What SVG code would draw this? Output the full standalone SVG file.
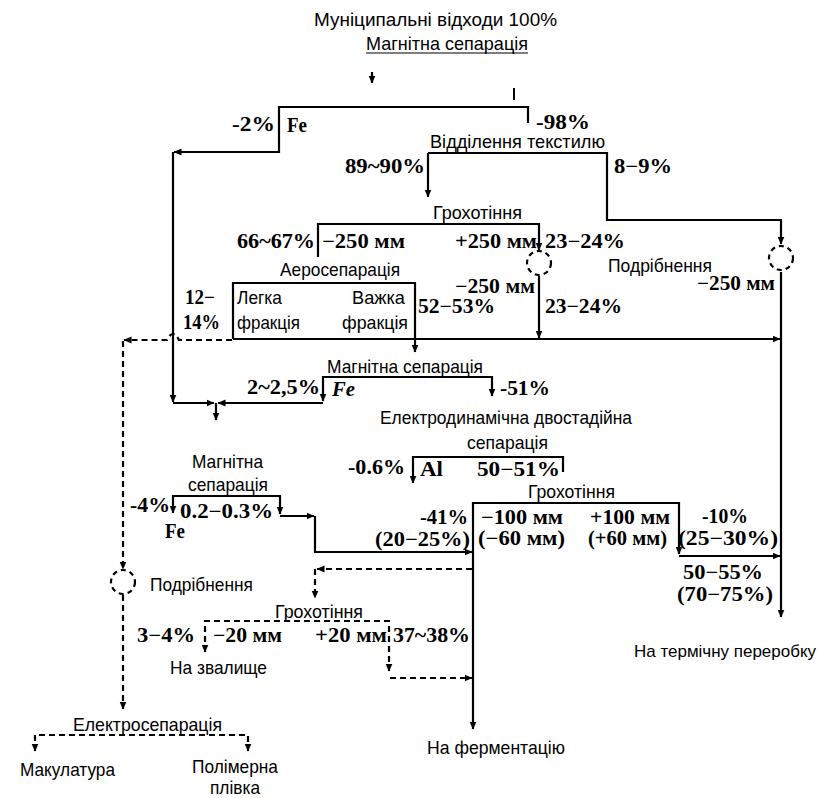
<svg xmlns="http://www.w3.org/2000/svg" width="822" height="798" viewBox="0 0 822 798">
<style>
.s{fill:none;stroke:#000;stroke-width:2.2}
.d{fill:none;stroke:#000;stroke-width:2.2;stroke-dasharray:6 4}
.c{fill:none;stroke:#000;stroke-width:2.2;stroke-dasharray:5 4}
.t{font-family:"Liberation Sans",Arial,sans-serif;font-size:19px;fill:#000}
.n{font-family:"Liberation Serif","Times New Roman",serif;font-size:20px;font-weight:bold;fill:#000}
.i{font-style:italic}
</style>
<defs>
<marker id="ah" viewBox="0 0 8 8" refX="7.5" refY="4" markerWidth="8" markerHeight="8" markerUnits="userSpaceOnUse" orient="auto-start-reverse"><path d="M0,0.5 L8,4 L0,7.5 z" fill="#000"/></marker>
</defs>
<rect width="822" height="798" fill="#fff"/>

<g id="title">
<text class="t" x="314" y="26" textLength="243" lengthAdjust="spacingAndGlyphs">Муніципальні відходи 100%</text>
</g>

<g id="magnetic1">
<text class="t" x="366" y="50" textLength="162" lengthAdjust="spacingAndGlyphs">Магнітна сепарація</text>
<line x1="366" y1="53" x2="528" y2="53" stroke="#000" stroke-width="1.2"/>
<line x1="514" y1="88" x2="514" y2="100" stroke="#000" stroke-width="2"/>
<text class="n" x="232" y="131" textLength="43" lengthAdjust="spacingAndGlyphs">-2%</text>
<text class="n" x="287" y="132" textLength="20" lengthAdjust="spacingAndGlyphs">Fe</text>
<text class="n" x="536" y="129" textLength="54" lengthAdjust="spacingAndGlyphs">-98%</text>
</g>

<g id="textile">
<text class="t" x="430" y="148" textLength="175" lengthAdjust="spacingAndGlyphs">Відділення текстилю</text>
<text class="n" x="345" y="173" textLength="80" lengthAdjust="spacingAndGlyphs">89~90%</text>
<text class="n" x="614" y="173" textLength="58" lengthAdjust="spacingAndGlyphs">8−9%</text>
</g>

<g id="screening1">
<text class="t" x="433" y="219" textLength="89" lengthAdjust="spacingAndGlyphs">Грохотіння</text>
<text class="n" x="237" y="248" textLength="78" lengthAdjust="spacingAndGlyphs">66~67%</text>
<text class="n" x="322" y="248" textLength="83" lengthAdjust="spacingAndGlyphs">−250 мм</text>
<text class="n" x="455" y="248" textLength="82" lengthAdjust="spacingAndGlyphs">+250 мм</text>
<text class="n" x="545" y="248" textLength="80" lengthAdjust="spacingAndGlyphs">23−24%</text>
</g>

<g id="crushing1">
<circle class="c" cx="539" cy="263" r="12"/>
<text class="n" x="455" y="293" textLength="80" lengthAdjust="spacingAndGlyphs">−250 мм</text>
<text class="n" x="545" y="313" textLength="77" lengthAdjust="spacingAndGlyphs">23−24%</text>
</g>

<g id="crushing2">
<circle class="c" cx="781" cy="258" r="12"/>
<text class="t" x="608" y="272" textLength="104" lengthAdjust="spacingAndGlyphs">Подрібнення</text>
<text class="n" x="697" y="290" textLength="78" lengthAdjust="spacingAndGlyphs">−250 мм</text>
</g>

<g id="aeroseparation">
<text class="t" x="280" y="276" textLength="120" lengthAdjust="spacingAndGlyphs">Аеросепарація</text>
<text class="t" x="237" y="304" textLength="45" lengthAdjust="spacingAndGlyphs">Легка</text>
<text class="t" x="237" y="329" textLength="63" lengthAdjust="spacingAndGlyphs">фракція</text>
<text class="t" x="352" y="304" textLength="53" lengthAdjust="spacingAndGlyphs">Важка</text>
<text class="t" x="342" y="329" textLength="66" lengthAdjust="spacingAndGlyphs">фракція</text>
<text class="n" x="185" y="304" textLength="30" lengthAdjust="spacingAndGlyphs">12−</text>
<text class="n" x="183" y="329" textLength="37" lengthAdjust="spacingAndGlyphs">14%</text>
<text class="n" x="418" y="313" textLength="77" lengthAdjust="spacingAndGlyphs">52−53%</text>
</g>

<g id="magnetic2">
<text class="t" x="327" y="373" textLength="156" lengthAdjust="spacingAndGlyphs">Магнітна сепарація</text>
<text class="n" x="247" y="394" textLength="73" lengthAdjust="spacingAndGlyphs">2~2,5%</text>
<text class="n i" x="332" y="396" textLength="23" lengthAdjust="spacingAndGlyphs">Fe</text>
<text class="n" x="500" y="395" textLength="50" lengthAdjust="spacingAndGlyphs">-51%</text>
</g>

<g id="electrodynamic">
<text class="t" x="380" y="424" textLength="252" lengthAdjust="spacingAndGlyphs">Електродинамічна двостадійна</text>
<text class="t" x="467" y="449" textLength="81" lengthAdjust="spacingAndGlyphs">сепарація</text>
<text class="n" x="348" y="474" textLength="57" lengthAdjust="spacingAndGlyphs">-0.6%</text>
<text class="n" x="420" y="476" textLength="23" lengthAdjust="spacingAndGlyphs">Al</text>
<text class="n" x="477" y="476" textLength="83" lengthAdjust="spacingAndGlyphs">50−51%</text>
</g>

<g id="magnetic3">
<text class="t" x="192" y="468" textLength="71" lengthAdjust="spacingAndGlyphs">Магнітна</text>
<text class="t" x="188" y="491" textLength="80" lengthAdjust="spacingAndGlyphs">сепарація</text>
<text class="n" x="130" y="512" textLength="40" lengthAdjust="spacingAndGlyphs">-4%</text>
<text class="n" x="180" y="518" textLength="93" lengthAdjust="spacingAndGlyphs">0.2−0.3%</text>
<text class="n" x="165" y="538" textLength="20" lengthAdjust="spacingAndGlyphs">Fe</text>
</g>

<g id="screening3">
<text class="t" x="528" y="498" textLength="87" lengthAdjust="spacingAndGlyphs">Грохотіння</text>
<text class="n" x="420" y="524" textLength="48" lengthAdjust="spacingAndGlyphs">-41%</text>
<text class="n" x="375" y="546" textLength="95" lengthAdjust="spacingAndGlyphs">(20−25%)</text>
<text class="n" x="481" y="524" textLength="82" lengthAdjust="spacingAndGlyphs">−100 мм</text>
<text class="n" x="590" y="524" textLength="80" lengthAdjust="spacingAndGlyphs">+100 мм</text>
<text class="n" x="478" y="545" textLength="87" lengthAdjust="spacingAndGlyphs">(−60 мм)</text>
<text class="n" x="588" y="545" textLength="79" lengthAdjust="spacingAndGlyphs">(+60 мм)</text>
<text class="n" x="702" y="523" textLength="46" lengthAdjust="spacingAndGlyphs">-10%</text>
<text class="n" x="678" y="545" textLength="100" lengthAdjust="spacingAndGlyphs">(25−30%)</text>
<text class="n" x="683" y="579" textLength="80" lengthAdjust="spacingAndGlyphs">50−55%</text>
<text class="n" x="677" y="601" textLength="96" lengthAdjust="spacingAndGlyphs">(70−75%)</text>
</g>

<g id="crushing3">
<circle class="c" cx="123" cy="582" r="12"/>
<text class="t" x="150" y="591" textLength="103" lengthAdjust="spacingAndGlyphs">Подрібнення</text>
</g>

<g id="screening4">
<text class="t" x="275" y="618" textLength="88" lengthAdjust="spacingAndGlyphs">Грохотіння</text>
<text class="n" x="137" y="642" textLength="58" lengthAdjust="spacingAndGlyphs">3−4%</text>
<text class="n" x="213" y="642" textLength="69" lengthAdjust="spacingAndGlyphs">−20 мм</text>
<text class="n" x="315" y="642" textLength="72" lengthAdjust="spacingAndGlyphs">+20 мм</text>
<text class="n" x="393" y="642" textLength="77" lengthAdjust="spacingAndGlyphs">37~38%</text>
</g>

<g id="landfill">
<text class="t" x="170" y="674" textLength="97" lengthAdjust="spacingAndGlyphs">На звалище</text>
</g>

<g id="thermal">
<text class="t" x="634" y="657" style="font-size:17px" textLength="182" lengthAdjust="spacingAndGlyphs">На термічну переробку</text>
</g>

<g id="electroseparation">
<text class="t" x="73" y="731" textLength="149" lengthAdjust="spacingAndGlyphs">Електросепарація</text>
</g>

<g id="fermentation">
<text class="t" x="427" y="754" textLength="138" lengthAdjust="spacingAndGlyphs">На ферментацію</text>
</g>

<g id="paper">
<text class="t" x="20" y="776" textLength="95" lengthAdjust="spacingAndGlyphs">Макулатура</text>
</g>

<g id="film">
<text class="t" x="192" y="773" textLength="86" lengthAdjust="spacingAndGlyphs">Полімерна</text>
<text class="t" x="210" y="794" textLength="50" lengthAdjust="spacingAndGlyphs">плівка</text>
</g>

<g id="connectors">
<path class="s" d="M372,72 V83" marker-end="url(#ah)"/>
<path class="s" d="M528,123 V107 H279 V152 H174" marker-end="url(#ah)"/>
<path class="s" d="M173,152 V402" marker-end="url(#ah)"/>
<path class="s" d="M428,153 V197" marker-end="url(#ah)"/>
<path class="s" d="M428,153 H607 V220 H781 V244" marker-end="url(#ah)"/>
<path class="s" d="M781,272 V617" marker-end="url(#ah)"/>
<path class="s" d="M318,257 V224 H539 V250" marker-end="url(#ah)"/>
<path class="s" d="M539,276 V338" marker-end="url(#ah)"/>
<path class="s" d="M233,339 V283 H415 V352" marker-end="url(#ah)"/>
<path class="s" d="M233,339 H780" marker-end="url(#ah)"/>
<path class="d" d="M232,340 H179 Q173,328 167,340 H124" marker-end="url(#ah)"/>
<path class="d" d="M123,341 V569" marker-end="url(#ah)"/>
<path class="s" d="M323,401 V377 H492 V396" marker-start="url(#ah)" marker-end="url(#ah)"/>
<path class="s" d="M173,403 H214" marker-end="url(#ah)"/>
<path class="s" d="M323,403 H218" marker-end="url(#ah)"/>
<path class="s" d="M216,403 V420" marker-end="url(#ah)"/>
<path class="s" d="M413,483 V457 H563 V472" marker-start="url(#ah)"/>
<path class="s" d="M173,513 V496 H280 V514" marker-start="url(#ah)" marker-end="url(#ah)"/>
<path class="s" d="M280,516 H314" marker-end="url(#ah)"/>
<path class="s" d="M315,516 V552 H472" marker-end="url(#ah)"/>
<path class="s" d="M679,554 V503 H473 V729" marker-start="url(#ah)" marker-end="url(#ah)"/>
<path class="s" d="M679,556 H780" marker-end="url(#ah)"/>
<path class="d" d="M472,569 H317" marker-end="url(#ah)"/>
<path class="d" d="M315,569 V598" marker-end="url(#ah)"/>
<path class="d" d="M205,652 V621 H389 V671" marker-start="url(#ah)" marker-end="url(#ah)"/>
<path class="d" d="M390,678 H472" marker-end="url(#ah)"/>
<path class="d" d="M123,595 V709" marker-end="url(#ah)"/>
<path class="d" d="M35,751 V735 H248 V751" marker-start="url(#ah)" marker-end="url(#ah)"/>
</g>
</svg>
